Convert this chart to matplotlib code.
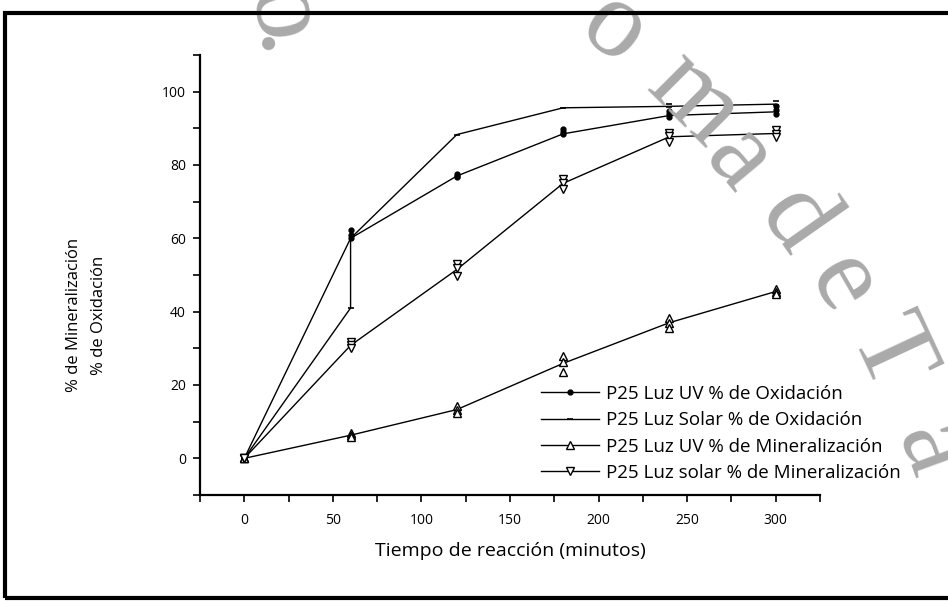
import matplotlib
matplotlib.use("Agg")
import matplotlib.pyplot as plt
from matplotlib.lines import Line2D
from matplotlib.patches import Rectangle
from matplotlib.ticker import MultipleLocator

# Tiempos de muestreo (minutos)
tiempo = [0, 60, 120, 180, 240, 300]

# P25 Luz UV % de Oxidacion: replicas y promedio
uv_ox_rep = [[0, 0, 0], [62.3, 60.8, 60.2], [77.6, 77.0, 76.8],
             [89.8, 89.0, 88.4], [94.8, 94.0, 93.2], [96.0, 95.0, 93.8]]
uv_ox = [0, 60, 77, 88.5, 93.5, 94.5]

# P25 Luz Solar % de Oxidacion (el punto de 60 min aparece dos veces)
solar_ox_t = [0, 60, 60, 120, 180, 240, 300]
solar_ox = [0, 41, 60, 88.3, 95.6, 96.0, 96.6]
solar_ox_rep = [[0], [40.9], [88.3], [95.6], [96.7, 95.8], [97.4, 96.4]]

# P25 Luz UV % de Mineralizacion
uv_min_rep = [[0, 0, 0], [7.0, 6.5, 5.8], [14.3, 13.3, 12.5],
              [27.8, 26.2, 23.6], [38.2, 37.0, 35.6], [46.2, 45.5, 44.8]]
uv_min = [0, 6.3, 13.3, 25.9, 37.0, 45.5]

# P25 Luz solar % de Mineralizacion
solar_min_rep = [[0, 0, 0], [31.8, 31.0, 30.0], [53.0, 52.0, 49.6],
                 [76.3, 75.0, 73.5], [88.8, 88.0, 86.2], [89.6, 88.5, 87.6]]
solar_min = [0, 30.8, 51.5, 75.0, 87.7, 88.6]

etiquetas = ["P25 Luz UV % de Oxidación", "P25 Luz Solar % de Oxidación",
             "P25 Luz UV % de Mineralización", "P25 Luz solar % de Mineralización"]

fig = plt.figure(figsize=(9.48, 6.06), dpi=100)
W, H = 948, 606

# marca de agua (texto gris en arco)
wm = [("o", 280, 16, -80), (".", 283, 46, -80),
      ("o", 614, 30, -38), ("m", 694, 100, -45), ("a", 738, 160, -50),
      ("d", 795, 222, -55), ("e", 842, 285, -60),
      ("T", 888, 355, -65), ("a", 930, 450, -70)]
for ch, px, py, rot in wm:
    fig.text(px / W, 1 - py / H, ch, fontsize=80, color="#aaaaaa",
             family="Liberation Serif", rotation=rot, rotation_mode="anchor",
             ha="center", va="center", zorder=0)

ax = fig.add_axes([200 / W, 1 - 495 / H, 620 / W, 440 / H])
ax.patch.set_alpha(0)

def replicas(rep, t):
    xs, ys = [], []
    for ti, vals in zip(t, rep):
        for v in vals:
            xs.append(ti)
            ys.append(v)
    return xs, ys

lw = 1.0
ax.plot(tiempo, uv_ox, color="black", lw=lw)
ax.plot(*replicas(uv_ox_rep, tiempo), ls="none", marker="o", ms=3.5,
        color="black")

ax.plot(solar_ox_t, solar_ox, color="black", lw=lw)
ax.plot(*replicas(solar_ox_rep, tiempo), ls="none", marker="_", ms=4,
        mew=1.2, color="black")

ax.plot(tiempo, uv_min, color="black", lw=lw)
ax.plot(*replicas(uv_min_rep, tiempo), ls="none", marker="^", ms=6,
        mfc="white", mec="black", mew=1.0)

ax.plot(tiempo, solar_min, color="black", lw=lw)
ax.plot(*replicas(solar_min_rep, tiempo), ls="none", marker="v", ms=6,
        mfc="white", mec="black", mew=1.0)

ax.set_xlim(-25, 325)
ax.set_ylim(-10, 110)
ax.xaxis.set_major_locator(MultipleLocator(50))
ax.xaxis.set_minor_locator(MultipleLocator(25))
ax.yaxis.set_major_locator(MultipleLocator(20))
ax.yaxis.set_minor_locator(MultipleLocator(10))
for s in ["top", "right"]:
    ax.spines[s].set_visible(False)
for s in ["left", "bottom"]:
    ax.spines[s].set_linewidth(1.6)
ax.tick_params(which="both", direction="out", length=5, width=1.2)
ax.tick_params(axis="x", pad=8)
ax.tick_params(axis="y", pad=5)
for lab in ax.get_xticklabels() + ax.get_yticklabels():
    lab.set_family("Open Sans")
    lab.set_fontsize(10)

fig.text(510 / W, 1 - 551 / H, "Tiempo de reacción (minutos)",
         family="Open Sans", fontsize=14, ha="center", va="center")
fig.text(86.5 / W, 1 - 315 / H, "% de Mineralización\n% de Oxidación",
         family="Open Sans", fontsize=12, ha="center", va="center",
         rotation=90, multialignment="center", linespacing=1.75)

handles = [
    Line2D([], [], color="black", lw=lw, marker="o", ms=3.5),
    Line2D([], [], color="black", lw=lw, marker="_", ms=4, mew=1.2),
    Line2D([], [], color="black", lw=lw, marker="^", ms=6, mfc="white"),
    Line2D([], [], color="black", lw=lw, marker="v", ms=6, mfc="white"),
]
fig.legend(handles, etiquetas, loc="upper left",
           bbox_to_anchor=(541 / W, 1 - 385 / H), frameon=False,
           prop={"family": "Open Sans", "size": 13.5}, handlelength=3.1,
           handletextpad=0.37, labelspacing=0.44, borderpad=0,
           borderaxespad=0)

# marco negro de la figura
fig.patches.append(Rectangle((5 / W, 1 - 598 / H), 950 / W, 585 / H,
                             transform=fig.transFigure, fill=False,
                             lw=3, edgecolor="black"))

fig.savefig("out.png", dpi=100)
